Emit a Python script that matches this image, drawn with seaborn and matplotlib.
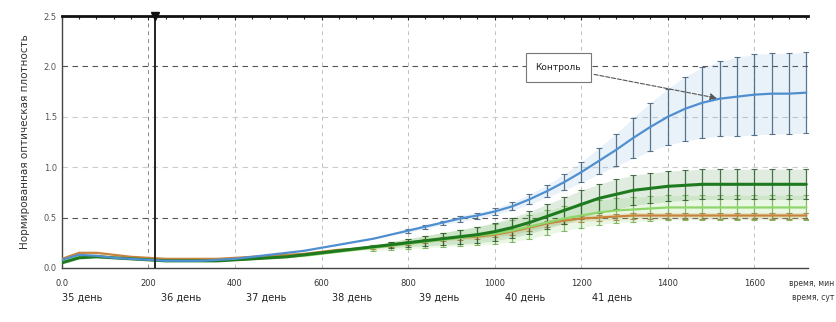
import numpy as np
import pandas as pd
import matplotlib
matplotlib.use("Agg")
import matplotlib.pyplot as plt
from matplotlib.ticker import AutoMinorLocator
import seaborn as sns

# time axis (minutes)
t = [0, 40, 80, 120, 160, 200, 240, 280, 320, 360, 400, 440, 480, 520, 560,
     600, 640, 680, 720, 760, 800, 840, 880, 920, 960, 1000, 1040, 1080, 1120,
     1160, 1200, 1240, 1280, 1320, 1360, 1400, 1440, 1480, 1520, 1560, 1600,
     1640, 1680, 1720]

control = [0.08, 0.13, 0.12, 0.10, 0.09, 0.08, 0.07, 0.07, 0.07, 0.08, 0.09,
           0.11, 0.13, 0.15, 0.17, 0.20, 0.23, 0.26, 0.29, 0.33, 0.37, 0.41,
           0.45, 0.49, 0.52, 0.56, 0.61, 0.68, 0.76, 0.85, 0.95, 1.06, 1.17,
           1.29, 1.40, 1.50, 1.58, 1.64, 1.68, 1.70, 1.72, 1.73, 1.73, 1.74]
control_err = [0, 0, 0, 0, 0, 0, 0, 0, 0, 0, 0, 0, 0, 0, 0, 0, 0, 0, 0, 0,
               0.02, 0.02, 0.02, 0.03, 0.03, 0.03, 0.04, 0.05, 0.06, 0.08,
               0.10, 0.13, 0.16, 0.20, 0.24, 0.28, 0.32, 0.35, 0.37, 0.39,
               0.40, 0.40, 0.40, 0.40]

dark_green = [0.05, 0.10, 0.11, 0.10, 0.09, 0.08, 0.07, 0.07, 0.07, 0.07, 0.08,
              0.09, 0.10, 0.11, 0.13, 0.15, 0.17, 0.19, 0.21, 0.23, 0.25, 0.27,
              0.29, 0.31, 0.33, 0.36, 0.40, 0.45, 0.51, 0.57, 0.63, 0.69, 0.73,
              0.77, 0.79, 0.81, 0.82, 0.83, 0.83, 0.83, 0.83, 0.83, 0.83, 0.83]
dark_green_err = [0, 0, 0, 0, 0, 0, 0, 0, 0, 0, 0, 0, 0, 0, 0, 0, 0, 0, 0,
                  0.03, 0.04, 0.05, 0.06, 0.07, 0.08, 0.09, 0.10, 0.11, 0.12,
                  0.13, 0.14, 0.14, 0.15, 0.15, 0.15, 0.15, 0.15, 0.15, 0.15,
                  0.15, 0.15, 0.15, 0.15, 0.15]

light_green = [0.06, 0.11, 0.12, 0.10, 0.09, 0.08, 0.07, 0.07, 0.07, 0.07, 0.08,
               0.09, 0.10, 0.11, 0.12, 0.14, 0.16, 0.18, 0.20, 0.22, 0.24, 0.26,
               0.28, 0.30, 0.32, 0.34, 0.37, 0.41, 0.45, 0.49, 0.52, 0.55, 0.57,
               0.58, 0.59, 0.60, 0.60, 0.60, 0.60, 0.60, 0.60, 0.60, 0.60, 0.60]
light_green_err = [0, 0, 0, 0, 0, 0, 0, 0, 0, 0, 0, 0, 0, 0, 0, 0, 0, 0,
                   0.03, 0.04, 0.05, 0.06, 0.07, 0.08, 0.09, 0.10, 0.11, 0.12,
                   0.12, 0.12, 0.12, 0.12, 0.12, 0.12, 0.12, 0.12, 0.12, 0.12,
                   0.12, 0.12, 0.12, 0.12, 0.12, 0.12]

orange = [0.09, 0.15, 0.15, 0.13, 0.11, 0.10, 0.09, 0.09, 0.09, 0.09, 0.10,
          0.11, 0.12, 0.13, 0.14, 0.16, 0.18, 0.19, 0.21, 0.23, 0.25, 0.27,
          0.29, 0.30, 0.31, 0.33, 0.36, 0.40, 0.44, 0.47, 0.49, 0.50, 0.51,
          0.52, 0.52, 0.52, 0.52, 0.52, 0.52, 0.52, 0.52, 0.52, 0.52, 0.52]
orange_err = [0.01] * 18 + [0.02] * 8 + [0.03] * 18

x_ticks = [0, 200, 400, 600, 800, 1000, 1200, 1400, 1600]
x_tick_labels = ["0.0", "200", "400", "600", "800", "1000", "1200", "1400", "1600"]
y_ticks = [0.0, 0.5, 1.0, 1.5, 2.0, 2.5]
day_labels = ["35 день", "36 день", "37 день", "38 день", "39 день", "40 день", "41 день"]
day_pos = [0, 230, 425, 625, 825, 1025, 1225]
marker_time = 215

series = {
    "Контроль": (control, control_err, "#4f8fd0", "#3f5f7a", 0.12),
    "Опыт 1": (dark_green, dark_green_err, "#1e7a1e", "#2f5a2f", 0.14),
    "Опыт 2": (light_green, light_green_err, "#8fd66a", "#6fae4f", 0.18),
    "Опыт 3": (orange, orange_err, "#c8843c", "#b0703a", 0.18),
}

frames = []
for name, (vals, err, _, _, _) in series.items():
    frames.append(pd.DataFrame({"t": t, "value": vals, "err": err, "series": name}))
df = pd.concat(frames, ignore_index=True)

sns.set_style("white")
plt.rcParams["font.family"] = ["DejaVu Sans"]

fig = plt.figure(figsize=(8.36, 3.22), dpi=100)
ax = fig.add_axes([0.074, 0.168, 0.893, 0.782])

# grid
for xv in x_ticks[1:]:
    ax.axvline(xv, color="#888888" if xv == 200 else "#c0c0c0", lw=0.7,
               ls=(0, (4, 4)), zorder=0)
for yv, col in [(0.5, "#555555"), (1.0, "#cccccc"), (1.5, "#cccccc"),
                (2.0, "#555555"), (2.5, "#999999")]:
    ax.axhline(yv, color=col, lw=0.8, ls=(0, (5, 4)), zorder=0)

order = ["Опыт 3", "Опыт 2", "Опыт 1", "Контроль"]
for name in order:
    vals, err, color, ecolor, band_alpha = series[name]
    sub = df[df["series"] == name]
    lo = sub["value"] - sub["err"]
    hi = sub["value"] + sub["err"]
    ax.fill_between(sub["t"], lo, hi, color=color, alpha=band_alpha, lw=0, zorder=1)
    mask = sub["err"] > 0.015
    ax.errorbar(sub["t"][mask], sub["value"][mask], yerr=sub["err"][mask],
                fmt="none", ecolor=ecolor, elinewidth=0.9, capsize=2,
                capthick=0.8, alpha=0.85, zorder=2)
    sns.lineplot(data=sub, x="t", y="value", ax=ax, color=color,
                 lw=2.2 if name == "Опыт 1" else 1.6, zorder=3, legend=False)

# event marker
ax.axvline(marker_time, color="#222222", lw=1.4, zorder=4)
ax.plot([marker_time], [2.5], marker="v", color="#111111", ms=6,
        clip_on=False, zorder=6)

ax.set_xlim(0, 1725)
ax.set_ylim(0, 2.5)
ax.set_xticks(x_ticks)
ax.set_xticklabels(x_tick_labels, fontsize=6, color="#333333")
ax.set_yticks(y_ticks)
ax.set_yticklabels([f"{v:.1f}" for v in y_ticks], fontsize=6, color="#555555")
ax.xaxis.set_minor_locator(AutoMinorLocator(5))
ax.yaxis.set_minor_locator(AutoMinorLocator(5))
ax.tick_params(which="both", direction="in", top=True, right=False, length=3,
               width=0.8, color="#222222")
ax.tick_params(which="minor", length=2)
ax.tick_params(axis="x", which="major", pad=8)
ax.set_xlabel("")
ax.set_ylabel("Нормированная оптическая плотность", fontsize=7.5,
              color="#333333", labelpad=10)

for side in ["left", "bottom"]:
    ax.spines[side].set_color("#444444")
    ax.spines[side].set_linewidth(1.0)
ax.spines["top"].set_color("#111111")
ax.spines["top"].set_linewidth(2.0)
ax.spines["right"].set_visible(False)

# second row of x labels: days
for pos, lab in zip(day_pos, day_labels):
    ax.text(pos, -0.12, lab, transform=ax.get_xaxis_transform(), fontsize=7,
            ha="left", va="center", color="#222222")
fig.text(0.998, 1 - 284 / 322, "время, мин", fontsize=5.5,
         ha="right", va="center", color="#333333")
fig.text(0.998, 1 - 298 / 322, "время, сут", fontsize=5.5,
         ha="right", va="center", color="#333333")

# callout for the control curve
ax.annotate("Контроль", xy=(1520, 1.68), xytext=(1147, 1.99),
            fontsize=6.5, ha="center", va="center", color="#222222",
            bbox=dict(boxstyle="square,pad=1.1", fc="white", ec="#777777", lw=0.8),
            arrowprops=dict(arrowstyle="-|>", ls="--", color="#555555", lw=0.8,
                            mutation_scale=10),
            zorder=7)

fig.savefig("out.png", dpi=100)
